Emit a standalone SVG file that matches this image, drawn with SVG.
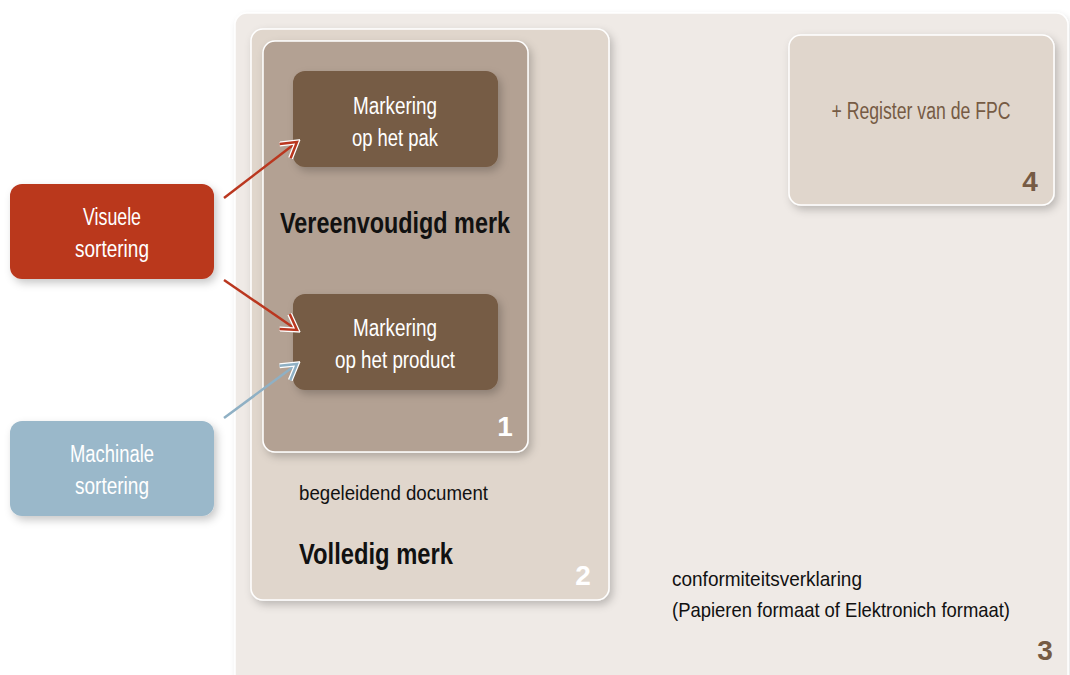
<svg xmlns="http://www.w3.org/2000/svg" width="1070" height="675" viewBox="0 0 1070 675">
<defs>
<filter id="sh" x="-20%" y="-20%" width="140%" height="140%">
<feDropShadow dx="3" dy="4" stdDeviation="4" flood-color="#000" flood-opacity="0.22"/>
</filter>
<filter id="shs" x="-5%" y="-5%" width="110%" height="110%">
<feDropShadow dx="2" dy="3" stdDeviation="3" flood-color="#000" flood-opacity="0.12"/>
</filter>
<marker id="ar" viewBox="0 0 22 22" refX="18" refY="11" markerWidth="22" markerHeight="22" markerUnits="userSpaceOnUse" orient="auto">
<path d="M3,2 L18,11 L3,20" fill="none" stroke="#fff" stroke-width="5" stroke-linejoin="miter"/>
<path d="M3,2 L18,11 L3,20" fill="none" stroke="#ba371f" stroke-width="2.5" stroke-linejoin="miter"/>
</marker>
<marker id="ab" viewBox="0 0 22 22" refX="18" refY="11" markerWidth="22" markerHeight="22" markerUnits="userSpaceOnUse" orient="auto">
<path d="M3,2 L18,11 L3,20" fill="none" stroke="#fff" stroke-width="5" stroke-linejoin="miter"/>
<path d="M3,2 L18,11 L3,20" fill="none" stroke="#8fb0c4" stroke-width="2.5" stroke-linejoin="miter"/>
</marker>
</defs>
<style>
text{font-family:"Liberation Sans Narrow","Liberation Sans",Arial,sans-serif}
.w{fill:#fff;font-size:23px;text-anchor:middle}
.b{fill:#111;font-size:29px;font-weight:bold}
.n{fill:#111;font-size:21px}
.num{font-size:28px;font-weight:bold;text-anchor:middle}
.box{stroke:#fff;stroke-width:1.5}
</style>
<rect width="1070" height="675" fill="#fff"/>
<g id="box3">
<rect class="box" x="235" y="13" width="833" height="680" rx="12" fill="#efeae6" filter="url(#shs)"/>
<text class="n" x="672" y="586" textLength="190" lengthAdjust="spacingAndGlyphs">conformiteitsverklaring</text>
<text class="n" x="672" y="617" textLength="338" lengthAdjust="spacingAndGlyphs">(Papieren formaat of Elektronich formaat)</text>
<text class="num" x="1045" y="660" fill="#765b44">3</text>
</g>
<g id="box2">
<rect class="box" x="251" y="29" width="358" height="571" rx="12" fill="#e0d6cc" filter="url(#sh)"/>
<text class="n" x="299" y="500" textLength="189" lengthAdjust="spacingAndGlyphs">begeleidend document</text>
<text class="b" x="299" y="564" textLength="154" lengthAdjust="spacingAndGlyphs">Volledig merk</text>
<text class="num" x="583" y="585" fill="#fff">2</text>
</g>
<g id="box1">
<rect class="box" x="263" y="41" width="265" height="411" rx="12" fill="#b3a193" filter="url(#sh)"/>
<text class="b" x="395" y="233" text-anchor="middle" textLength="230" lengthAdjust="spacingAndGlyphs">Vereenvoudigd merk</text>
<text class="num" x="505" y="436" fill="#fff">1</text>
</g>
<g id="pak">
<rect x="293" y="71" width="205" height="96" rx="12" fill="#765b44" filter="url(#sh)"/>
<text class="w" x="395" y="114" textLength="84" lengthAdjust="spacingAndGlyphs">Markering</text>
<text class="w" x="395" y="146" textLength="86" lengthAdjust="spacingAndGlyphs">op het pak</text>
</g>
<g id="product">
<rect x="293" y="294" width="205" height="96" rx="12" fill="#765b44" filter="url(#sh)"/>
<text class="w" x="395" y="336" textLength="84" lengthAdjust="spacingAndGlyphs">Markering</text>
<text class="w" x="395" y="368" textLength="120" lengthAdjust="spacingAndGlyphs">op het product</text>
</g>
<g id="visuele">
<rect x="10" y="184" width="204" height="95" rx="12" fill="#ba371f" filter="url(#sh)"/>
<text class="w" x="112" y="225" textLength="58" lengthAdjust="spacingAndGlyphs">Visuele</text>
<text class="w" x="112" y="257" textLength="74" lengthAdjust="spacingAndGlyphs">sortering</text>
</g>
<g id="machinale">
<rect x="10" y="421" width="204" height="95" rx="12" fill="#9ab8ca" filter="url(#sh)"/>
<text class="w" x="112" y="462" textLength="84" lengthAdjust="spacingAndGlyphs">Machinale</text>
<text class="w" x="112" y="494" textLength="74" lengthAdjust="spacingAndGlyphs">sortering</text>
</g>
<g id="register">
<rect class="box" x="789" y="35" width="265" height="170" rx="12" fill="#e0d6cc" filter="url(#sh)"/>
<text x="921" y="119" fill="#765b44" font-size="23" text-anchor="middle" textLength="179" lengthAdjust="spacingAndGlyphs">+ Register van de FPC</text>
<text class="num" x="1030" y="191" fill="#765b44">4</text>
</g>
<g id="connectors" fill="none" stroke-width="2.5">
<line x1="224" y1="198" x2="297" y2="142" stroke="#ba371f" marker-end="url(#ar)"/>
<line x1="224" y1="280" x2="297" y2="330" stroke="#ba371f" marker-end="url(#ar)"/>
<line x1="224" y1="418" x2="297" y2="364" stroke="#8fb0c4" marker-end="url(#ab)"/>
</g>
</svg>
